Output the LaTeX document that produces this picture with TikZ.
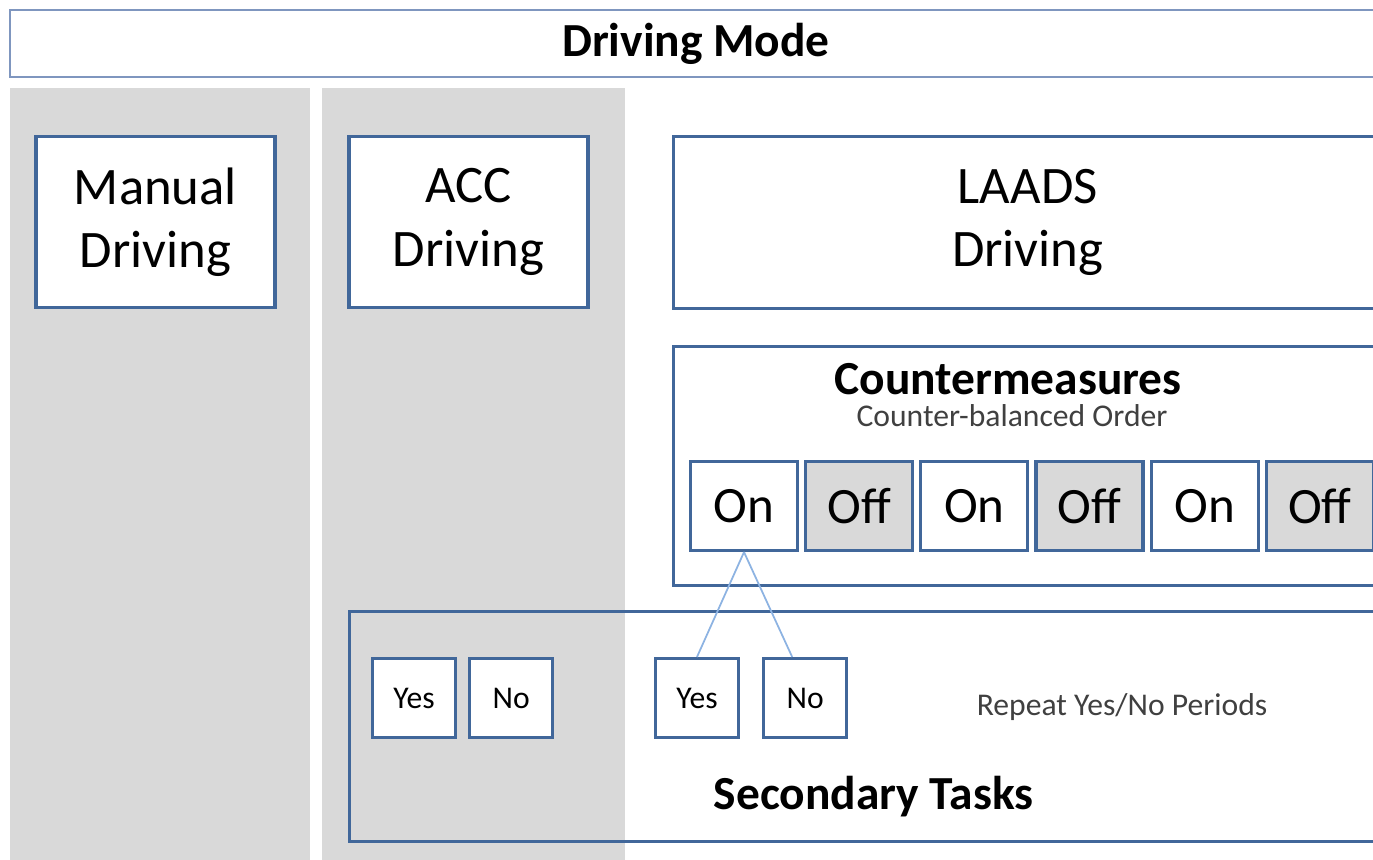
\documentclass[tikz,border=0pt]{standalone}
\usepackage{fontspec}
\setmainfont{Carlito}
\usetikzlibrary{positioning, calc}
\definecolor{boxblue}{HTML}{41679A}
\definecolor{titleblue}{HTML}{7F96BF}
\definecolor{colgray}{HTML}{D9D9D9}
\definecolor{linkblue}{HTML}{8DB3E2}
\definecolor{notegray}{HTML}{404040}

\begin{document}
\begin{tikzpicture}[x=0.1mm, y=-0.1mm,
    box/.style={draw=boxblue, line width=0.9pt, fill=white, align=center, inner sep=0pt,
        font=\fontsize{15}{18}\selectfont},
    onbox/.style={box, minimum width=10.7mm, minimum height=8.9mm, font=\fontsize{14.5}{17}\selectfont},
    offbox/.style={onbox, fill=colgray},
    ynbox/.style={box, minimum width=8.3mm, minimum height=7.9mm, font=\fontsize{9}{11}\selectfont},
    heading/.style={inner sep=0pt, font=\fontsize{13.5}{16}\selectfont\bfseries},
    note/.style={inner sep=0pt, text=notegray, font=\fontsize{9}{11}\selectfont},
    link/.style={draw=linkblue, line width=0.5pt}]
    \useasboundingbox (0,0) rectangle (1373,859);
    % mode columns
    \fill[colgray] (10,88) rectangle (310,870);
    \fill[colgray] (322,88) rectangle (625,870);
    \node[draw=titleblue, line width=0.6pt, minimum width=137.2mm, minimum height=6.75mm, heading] (mode) at (696,43.5) {Driving Mode};
    \node[box, minimum width=23.9mm, minimum height=17.1mm] (manual) at (155.5,222) {Manual\\Driving};
    \node[box, minimum width=23.9mm, minimum height=17.1mm] (acc) at (468.5,222) {ACC\\Driving};
    \node[box, minimum width=70.85mm, minimum height=17.2mm] (laads) at (1027.75,222.5) {LAADS\\Driving};
    % countermeasures
    \node[box, minimum width=71.65mm, minimum height=23.9mm] (cm) at (1031.75,466) {};
    \node[heading, text depth=0pt, anchor=base] (cmtitle) at (1008,394) {Countermeasures};
    \node[note, anchor=base] (cmorder) at (1012,426) {Counter-balanced Order};
    \node[onbox] (cm1) at (744,506) {On};
    \foreach \st/\tx [count=\i from 2] in {offbox/Off, onbox/On, offbox/Off, onbox/On, offbox/Off}{
        \pgfmathtruncatemacro{\j}{\i-1}
        \node[\st, right=0.5mm of cm\j] (cm\i) {\tx};
    }
    % secondary tasks
    \node[box, fill=none, minimum width=104.05mm, minimum height=23mm] (sec) at (869.75,726.5) {};
    \node[heading, anchor=base] (sectitle) at (873.5,809) {Secondary Tasks};
    \node[ynbox] (yes1) at (414,698) {Yes};
    \node[ynbox, right=1.1mm of yes1] (no1) {No};
    \node[ynbox] (yes2) at (697,698) {Yes};
    \node[ynbox, right=2.2mm of yes2] (no2) {No};
    \node[note, anchor=base] (repeat) at (1122,715) {Repeat Yes/No Periods};
    \draw[link] (cm1.south) -- (yes2.north);
    \draw[link] (cm1.south) -- ($(no2.north)+(-13,0)$);
\end{tikzpicture}
\end{document}
